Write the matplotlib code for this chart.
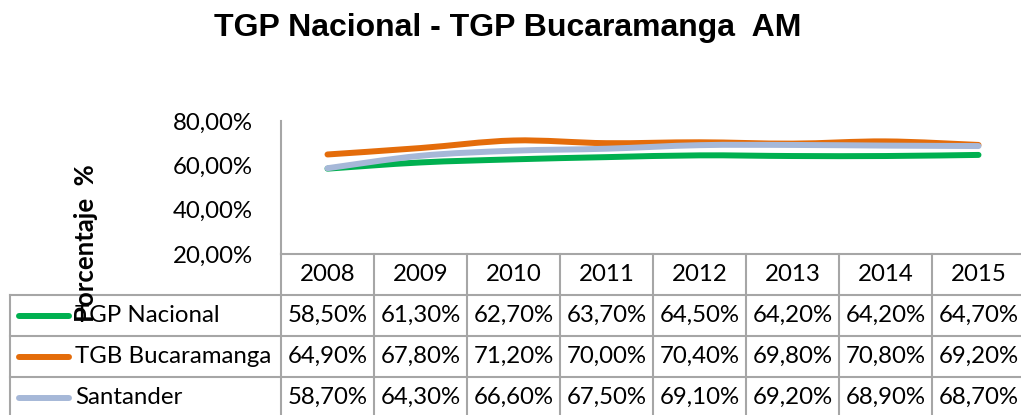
# -*- coding: utf-8 -*-
import numpy as np
import matplotlib.pyplot as plt
from matplotlib.path import Path
from matplotlib.patches import PathPatch

# datos
years = ['2008', '2009', '2010', '2011', '2012', '2013', '2014', '2015']
tgp_nacional = [58.5, 61.3, 62.7, 63.7, 64.5, 64.2, 64.2, 64.7]
tgb_bucaramanga = [64.9, 67.8, 71.2, 70.0, 70.4, 69.8, 70.8, 69.2]
santander = [58.7, 64.3, 66.6, 67.5, 69.1, 69.2, 68.9, 68.7]
series_names = ['TGP Nacional', 'TGB Bucaramanga', 'Santander']
series_vals = [tgp_nacional, tgb_bucaramanga, santander]
colors = ['#00B050', '#E46C0A', '#A6B8D8']
yticks = [20, 40, 60, 80]

FONT = 'Lato'
FS = 17.3
GRID = '#A6A6A6'


def fmt(v):
    return ('%.2f%%' % v).replace('.', ',')


# linea suavizada tipo Excel (bezier por Catmull-Rom)
def smooth_path(x, y):
    pts = np.column_stack([x, y]).astype(float)
    verts = [pts[0]]
    codes = [Path.MOVETO]
    n = len(pts)
    for i in range(n - 1):
        p0 = pts[max(i - 1, 0)]
        p1 = pts[i]
        p2 = pts[i + 1]
        p3 = pts[min(i + 2, n - 1)]
        c1 = p1 + (p2 - p0) / 6.0
        c2 = p2 - (p3 - p1) / 6.0
        verts += [c1, c2, p2]
        codes += [Path.CURVE4] * 3
    return Path(verts, codes)


W, H = 1021, 415
fig = plt.figure(figsize=(W / 100, H / 100), dpi=100)

left, right = 281, 1025
top, bottom = 121, 254
colw = (right - left) / len(years)
ax = fig.add_axes([left / W, 1 - bottom / H, (right - left) / W, (bottom - top) / H])
ax.set_xlim(-0.5, len(years) - 0.5)
ax.set_ylim(20, 80)

xs = np.arange(len(years))
for vals, c in zip(series_vals, colors):
    p = PathPatch(smooth_path(xs, vals), facecolor='none', edgecolor=c,
                  lw=4.3, capstyle='round', joinstyle='round')
    ax.add_patch(p)

ax.set_xticks([])
ax.set_yticks(yticks)
ax.set_yticklabels([fmt(v) for v in yticks], fontsize=FS, family=FONT)
ax.tick_params(axis='y', length=0, pad=20)
for s in ['top', 'right', 'bottom']:
    ax.spines[s].set_visible(False)
ax.spines['left'].set_color(GRID)
ax.spines['left'].set_linewidth(1.5)

# tabla de datos
tr = ax.get_xaxis_transform()
rowh = 41 / (bottom - top)


def px2x(px):
    return (px - left) / colw - 0.5


xl = px2x(10)
xr = len(years) - 0.5
nrows = len(series_names) + 1
# lineas horizontales
ax.plot([-0.5, xr], [0, 0], color=GRID, lw=1.5, transform=tr, clip_on=False)
for r in range(1, nrows + 1):
    ax.plot([xl, xr], [-r * rowh, -r * rowh], color=GRID, lw=1.5, transform=tr, clip_on=False)
# lineas verticales
for k in range(len(years) + 1):
    ax.plot([k - 0.5, k - 0.5], [0, -nrows * rowh], color=GRID, lw=1.5, transform=tr, clip_on=False)
ax.plot([xl, xl], [-rowh, -nrows * rowh], color=GRID, lw=1.5, transform=tr, clip_on=False)

for i, yr in enumerate(years):
    ax.text(i, -0.5 * rowh, yr, ha='center', va='center', fontsize=FS, family=FONT,
            transform=tr, clip_on=False)
for r, (name, vals, c) in enumerate(zip(series_names, series_vals, colors)):
    yc = -(r + 1.5) * rowh
    ax.plot([px2x(19), px2x(69)], [yc, yc], color=c, lw=4.3, solid_capstyle='round',
            transform=tr, clip_on=False)
    ax.text(px2x(75), yc, name, ha='left', va='center', fontsize=FS, family=FONT,
            transform=tr, clip_on=False)
    for i, v in enumerate(vals):
        ax.text(i, yc, fmt(v), ha='center', va='center', fontsize=FS, family=FONT,
                transform=tr, clip_on=False)

fig.text(86 / W, 1 - 243 / H, 'Porcentaje  %', rotation=90, ha='center', va='center',
         fontsize=18.5, family=FONT, fontweight='bold')
fig.text(508 / W, 1 - 36 / H, 'TGP Nacional - TGP Bucaramanga  AM', ha='center', va='baseline',
         fontsize=23, family='Liberation Sans', fontweight='bold')

fig.savefig('out.png', dpi=100)
